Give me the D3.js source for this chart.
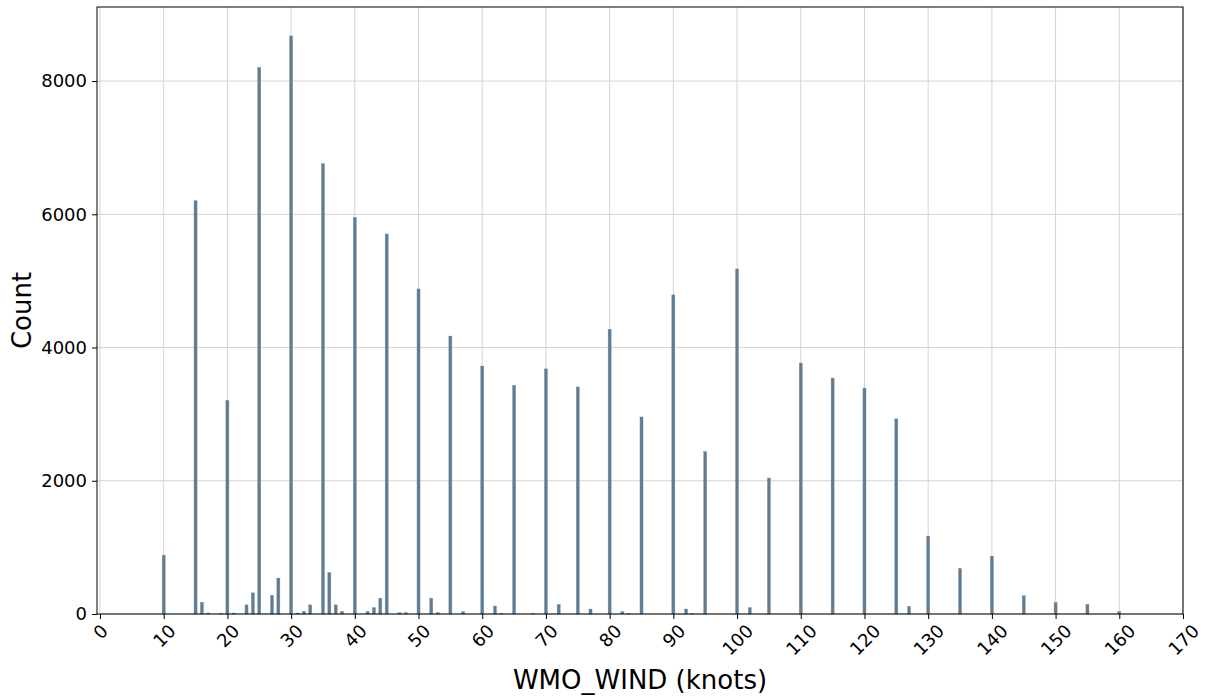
<!DOCTYPE html>
<html>
<head>
<meta charset="utf-8">
<script src="https://cdn.jsdelivr.net/npm/d3@7"></script>
<style>
  body { margin: 0; background: #fff; }
  svg { font-family: "DejaVu Sans", sans-serif; }
</style>
</head>
<body>
<div id="chart"></div>
<script>
// wind speed bins (knots) and counts
var windKnots = [10, 15, 16, 17, 19, 20, 21, 23, 24, 25, 27, 28, 30, 31, 32, 33, 35, 36, 37, 38,
  40, 42, 43, 44, 45, 47, 48, 50, 52, 53, 55, 57, 60, 62, 63, 65, 68, 70, 72, 75, 77,
  80, 82, 83, 85, 90, 92, 93, 95, 100, 102, 105, 110, 115, 120, 125, 127, 130, 135,
  140, 145, 150, 155, 160];
var counts = [884, 6205, 178, 15, 10, 3208, 15, 137, 318, 8205, 280, 540, 8678, 15, 40, 137, 6760, 622, 137, 40,
  5955, 40, 95, 237, 5705, 20, 20, 4880, 237, 20, 4172, 35, 3722, 120, 10, 3433, 10, 3680, 145, 3408, 75,
  4275, 35, 10, 2958, 4790, 75, 10, 2438, 5180, 95, 2042, 3768, 3542, 3392, 2930, 115, 1170, 685,
  870, 275, 175, 145, 35];
var xTicks = d3.range(0, 171, 10);
var yTicks = [0, 2000, 4000, 6000, 8000];

var W = 1208, H = 698;
var margin = {top: 7, right: 25, bottom: 84, left: 97};
var x0 = margin.left, x1 = W - margin.right, y0 = H - margin.bottom, y1 = margin.top;
var binW = 0.48;

var data = windKnots.map(function (k, i) { return {k: k, c: counts[i]}; });

var svg = d3.select("#chart").append("svg")
  .attr("width", W)
  .attr("height", H);

var x = d3.scaleLinear().domain([-0.47, 170]).range([x0, x1]);
var y = d3.scaleLinear().domain([0, d3.max(counts) * 1.05]).range([y0, y1]);

// grid
svg.append("g").selectAll("line.gx")
  .data(xTicks).enter().append("line")
  .attr("x1", function (d) { return x(d); })
  .attr("x2", function (d) { return x(d); })
  .attr("y1", y0).attr("y2", y1)
  .attr("stroke", "#d4d4d4").attr("stroke-width", 1);
svg.append("g").selectAll("line.gy")
  .data(yTicks).enter().append("line")
  .attr("x1", x0).attr("x2", x1)
  .attr("y1", function (d) { return y(d); })
  .attr("y2", function (d) { return y(d); })
  .attr("stroke", "#d4d4d4").attr("stroke-width", 1);

// bars
svg.append("g").selectAll("rect")
  .data(data).enter().append("rect")
  .attr("x", function (d) { return x(d.k - binW / 2); })
  .attr("width", function (d) { return x(d.k + binW / 2) - x(d.k - binW / 2); })
  .attr("y", function (d) { return y(d.c); })
  .attr("height", function (d) { return y0 - y(d.c); })
  .attr("fill", "#5f7c93")
  .attr("stroke", "#7b93a6")
  .attr("stroke-width", 0.4);

// frame
svg.append("rect")
  .attr("x", x0).attr("y", y1)
  .attr("width", x1 - x0).attr("height", y0 - y1)
  .attr("fill", "none").attr("stroke", "#000").attr("stroke-width", 1);

// x axis
var xAxis = svg.append("g")
  .attr("transform", "translate(0," + y0 + ")")
  .call(d3.axisBottom(x).tickValues(xTicks).tickSize(5).tickFormat(d3.format("d")));
xAxis.attr("font-family", null).attr("font-size", null);
xAxis.select(".domain").remove();
xAxis.selectAll(".tick line").attr("stroke", "#000");
xAxis.selectAll(".tick text").each(function () {
  var t = d3.select(this);
  t.style("font-size", "18px").style("font-family", "'DejaVu Sans'")
    .attr("fill", "#000").attr("dy", null)
    .attr("text-anchor", "middle").attr("dominant-baseline", "central");
  var w = this.getComputedTextLength(), h = 13;
  var cy = 9 + (w + h) / (2 * Math.SQRT2);
  t.attr("y", 0).attr("transform", "translate(0," + cy + ") rotate(-45)");
});

// y axis
var yAxis = svg.append("g")
  .attr("transform", "translate(" + x0 + ",0)")
  .call(d3.axisLeft(y).tickValues(yTicks).tickSize(5).tickPadding(5).tickFormat(d3.format("d")));
yAxis.attr("font-family", null).attr("font-size", null);
yAxis.select(".domain").remove();
yAxis.selectAll(".tick line").attr("stroke", "#000");
yAxis.selectAll(".tick text")
  .style("font-size", "18px").style("font-family", "'DejaVu Sans'")
  .attr("fill", "#000");

// axis labels
svg.append("text")
  .attr("x", (x0 + x1) / 2 + 0)
  .attr("y", 689)
  .attr("text-anchor", "middle")
  .style("font-size", "26px")
  .text("WMO_WIND (knots)");

svg.append("text")
  .attr("transform", "translate(31," + (y0 + y1) / 2 + ") rotate(-90)")
  .attr("text-anchor", "middle")
  .style("font-size", "26px")
  .text("Count");
</script>
</body>
</html>
